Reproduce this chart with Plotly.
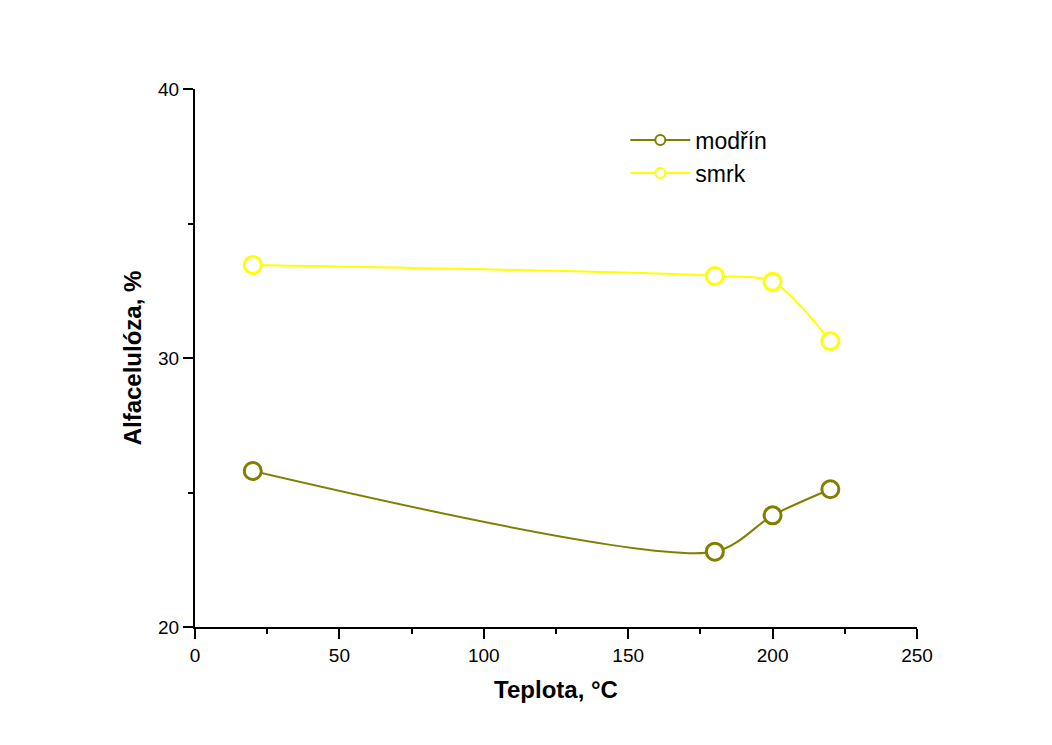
import plotly.graph_objects as go

# Data
teplota = [20, 180, 200, 220]
modrin = [25.8, 22.8, 24.15, 25.12]
smrk = [33.46, 33.05, 32.83, 30.63]

series_names = ["modřín", "smrk"]
series_colors = ["#808000", "#FFFF00"]

x_ticks = [0, 50, 100, 150, 200, 250]
y_ticks = [20, 30, 40]

FONT = "Liberation Sans, Arial, sans-serif"

fig = go.Figure()

for name, vals, col in zip(series_names, [modrin, smrk], series_colors):
    fig.add_trace(go.Scatter(
        x=teplota, y=vals, name=name, mode="lines+markers",
        line=dict(color=col, width=2, shape="spline", smoothing=0.8),
        marker=dict(symbol="circle", size=17, color="white",
                    line=dict(color=col, width=3)),
        showlegend=False,
    ))
    # legend-only entry with a smaller marker
    fig.add_trace(go.Scatter(
        x=[None], y=[None], name=name, mode="lines+markers",
        line=dict(color=col, width=2),
        marker=dict(symbol="circle", size=10, color="white",
                    line=dict(color=col, width=2)),
        showlegend=True,
    ))

axis_common = dict(
    showline=True, linecolor="black", linewidth=2,
    ticks="outside", ticklen=10, tickwidth=2, tickcolor="black",
    showgrid=False, zeroline=False, mirror=False,
    tickfont=dict(family=FONT, size=19, color="black"),
)

fig.update_xaxes(
    range=[0, 250], tickvals=x_ticks,
    minor=dict(dtick=25, ticks="outside", ticklen=5, tickwidth=2, tickcolor="black", showgrid=False),
    title=dict(text="<b>Teplota, °C</b>", font=dict(family=FONT, size=24, color="black"), standoff=16),
    **axis_common,
)
fig.update_yaxes(
    range=[20, 40], tickvals=y_ticks,
    minor=dict(dtick=5, ticks="outside", ticklen=5, tickwidth=2, tickcolor="black", showgrid=False),
    title=dict(text="<b>Alfacelulóza, %</b>", font=dict(family=FONT, size=24, color="black"), standoff=10),
    **axis_common,
)

fig.update_layout(
    width=1052, height=745,
    margin=dict(l=195, r=135, t=89, b=118),
    paper_bgcolor="white", plot_bgcolor="white",
    font=dict(family=FONT, color="black"),
    legend=dict(
        x=0.596, y=0.945, xanchor="left", yanchor="top",
        bgcolor="rgba(0,0,0,0)", borderwidth=0,
        font=dict(family=FONT, size=23, color="black"),
        itemwidth=60,
    ),
)

fig.write_html("out.html")
